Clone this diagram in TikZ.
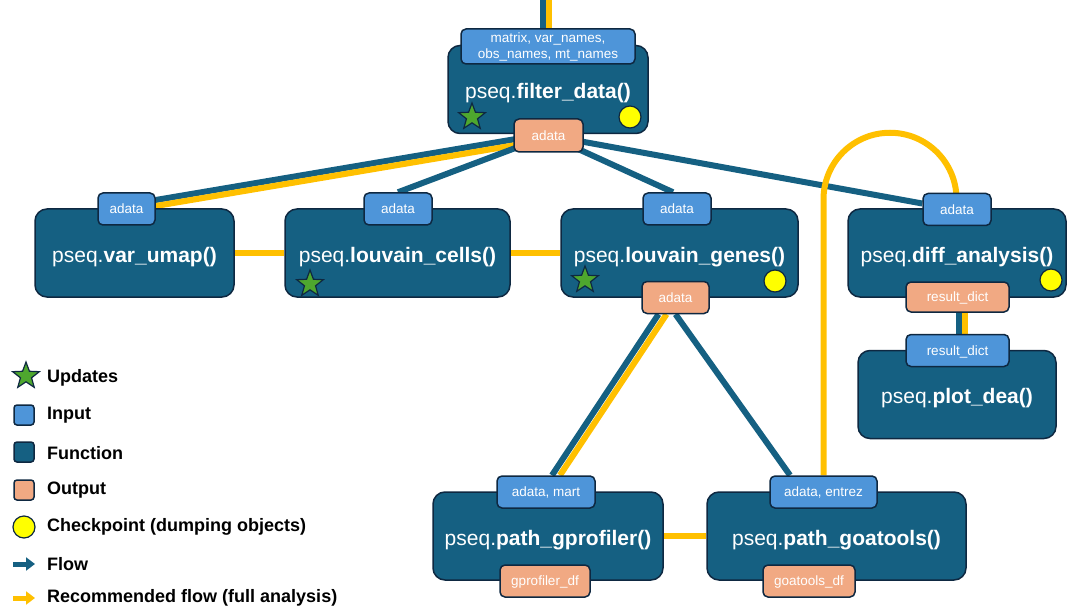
\documentclass[tikz,border=0pt]{standalone}
\usepackage{fontspec}
\setmainfont{Liberation Sans}
\usetikzlibrary{shapes.geometric,arrows.meta}

\definecolor{funcblue}{HTML}{156082}
\definecolor{darkline}{HTML}{0E2841}
\definecolor{inblue}{HTML}{4E95D9}
\definecolor{outorange}{HTML}{F1A983}
\definecolor{recyellow}{HTML}{FFC000}
\definecolor{stargreen}{HTML}{4EA72E}
\definecolor{checkyellow}{HTML}{FFFF00}

\pgfdeclarelayer{background}
\pgfsetlayers{background,main}

\tikzset{
  func/.style={draw=darkline, line width=1.5pt, fill=funcblue, rounded corners=12pt,
    text=white, font=\fontsize{21}{25}\selectfont, inner sep=0pt, minimum height=88pt,
    text height=18pt, text depth=0pt},
  inbase/.style={draw=darkline, line width=1.5pt, fill=inblue, rounded corners=5pt,
    text=white, font=\fontsize{13.5}{16}\selectfont, inner sep=0pt, align=center, minimum height=32pt},
  inbox/.style={inbase, text height=9.5pt, text depth=0pt},
  outbox/.style={inbox, fill=outorange},
  upd/.style={star, star points=5, star point ratio=2.4, draw=darkline, fill=stargreen,
    line width=1.2pt, minimum size=28pt, inner sep=0pt},
  chk/.style={circle, draw=darkline, fill=checkyellow, line width=1.2pt, minimum size=22pt, inner sep=0pt},
  flow/.style={funcblue, line width=6pt},
  rec/.style={recyellow, line width=6pt},
  legtext/.style={anchor=west, font=\fontsize{18}{21}\selectfont\bfseries, inner sep=0pt},
}

\begin{document}
\begin{tikzpicture}[x=1pt,y=-1pt]
    \useasboundingbox (0,0) rectangle (1075,612);

    % Function boxes
    \node[func, minimum width=200pt] (fdata) at (548,89.5) {pseq.\textbf{filter\_data()}};
    \node[func, minimum width=199pt] (vumap) at (134.5,253) {pseq.\textbf{var\_umap()}};
    \node[func, minimum width=225pt] (lcells) at (397.5,253) {pseq.\textbf{louvain\_cells()}};
    \node[func, minimum width=237pt] (lgenes) at (679.5,253) {pseq.\textbf{louvain\_genes()}};
    \node[func, minimum width=218pt] (dea) at (957,253) {pseq.\textbf{diff\_analysis()}};
    \node[func, minimum width=198pt] (pdea) at (957,394.5) {pseq.\textbf{plot\_dea()}};
    \node[func, minimum width=230pt] (gprof) at (548,536) {pseq.\textbf{path\_gprofiler()}};
    \node[func, minimum width=259pt] (goat) at (836.5,536) {pseq.\textbf{path\_goatools()}};

    % Updates and checkpoints
    \node[upd] (fstar) at (472,117) {};
    \node[upd] (lcstar) at (310,284) {};
    \node[upd] (lgstar) at (585,280) {};
    \node[chk] (fchk) at (630,117) {};
    \node[chk] (lgchk) at (775,281) {};
    \node[chk] (dchk) at (1051,280) {};

    % Inputs
    \node[inbase, minimum width=174pt, minimum height=35pt] (fin) at (548,46.5) {matrix, var\_names,\\obs\_names, mt\_names};
    \node[inbox, minimum width=57pt] (vin) at (126.5,209) {adata};
    \node[inbox, minimum width=68pt] (lcin) at (398,209) {adata};
    \node[inbox, minimum width=68pt] (lgin) at (677,209) {adata};
    \node[inbox, minimum width=68pt] (din) at (957,209.5) {adata};
    \node[inbox, minimum width=103pt] (pin) at (957.5,350.5) {result\_dict};
    \node[inbox, minimum width=98pt] (gpin) at (546,492) {adata, mart};
    \node[inbox, minimum width=107pt] (goin) at (823.5,492) {adata, entrez};

    % Outputs
    \node[outbox, minimum width=69pt, minimum height=33pt] (fout) at (548.5,135.5) {adata};
    \node[outbox, minimum width=67pt] (lgout) at (675.5,297.5) {adata};
    \node[outbox, minimum width=103pt, minimum height=30pt] (dout) at (957.5,297) {result\_dict};
    \node[outbox, minimum width=90pt] (gpout) at (545,581) {gprofiler\_df};
    \node[outbox, minimum width=92pt] (goout) at (809,581) {goatools\_df};

    % Connectors
    \coordinate (top) at (546,0);
    \begin{pgfonlayer}{background}
        \draw[flow] ([xshift=-3pt]top) -- ([xshift=-3pt]top |- fin.center);
        \draw[rec] ([xshift=3pt]top) -- ([xshift=3pt]top |- fin.center);
        \draw[flow] ([yshift=2pt]fout.center) -- ([yshift=9pt]vin.east);
        \draw[rec] ([yshift=-4pt]fout.center) -- ([yshift=3pt]vin.east);
        \draw[flow] (fout.center) -- (lcin.north);
        \draw[flow] (fout.center) -- ([xshift=-4pt]lgin.north);
        \draw[flow] (fout.center) -- ([yshift=6pt]din.west);
        \draw[rec] (vumap.east) -- (lcells.west);
        \draw[rec] (lcells.east) -- (lgenes.west);
        \draw[flow] ([xshift=-17pt]lgout.south) -- ([xshift=6pt]gpin.north);
        \draw[rec] ([xshift=-9pt]lgout.south) -- ([xshift=14pt]gpin.north);
        \draw[flow] (lgout.south) -- ([xshift=-33.5pt]goin.north);
        \draw[rec] (gprof.east) -- (goat.west);
        \draw[rec] (goin.north) -- ++(0,-276) arc[start angle=180, end angle=0, radius=66.5pt];
        \draw[flow] ([xshift=1.5pt]dout.south) -- ([xshift=1.5pt]pin.north);
        \draw[rec] ([xshift=7.5pt]dout.south) -- ([xshift=7.5pt]pin.north);
    \end{pgfonlayer}

    % Legend
    \node[upd] (lstar) at (26,376) {};
    \node[legtext] (lupd) at (47,378) {Updates};
    \node[inbox, minimum size=20pt, rounded corners=3pt] (lin) at (24,415) {};
    \node[legtext] (linp) at (47,415) {Input};
    \node[func, minimum size=20pt, rounded corners=3pt] (lfn) at (24,452) {};
    \node[legtext] (lfunc) at (47,453) {Function};
    \node[outbox, minimum size=20pt, rounded corners=3pt] (lout) at (24,490) {};
    \node[legtext] (loutp) at (47,490) {Output};
    \node[chk] (lchk) at (24,527) {};
    \node[legtext] (lcheck) at (47,527) {Checkpoint (dumping objects)};
    \coordinate (fa) at (13,564);
    \coordinate (fb) at (35,564);
    \draw[funcblue, line width=5pt, -{Triangle[length=9pt,width=13pt]}] (fa) -- (fb);
    \node[legtext] (lflow) at (47,564) {Flow};
    \coordinate (ra) at (13,598);
    \coordinate (rb) at (35,598);
    \draw[recyellow, line width=5pt, -{Triangle[length=9pt,width=13pt]}] (ra) -- (rb);
    \node[legtext] (lrec) at (47,598) {Recommended flow (full analysis)};
\end{tikzpicture}
\end{document}
